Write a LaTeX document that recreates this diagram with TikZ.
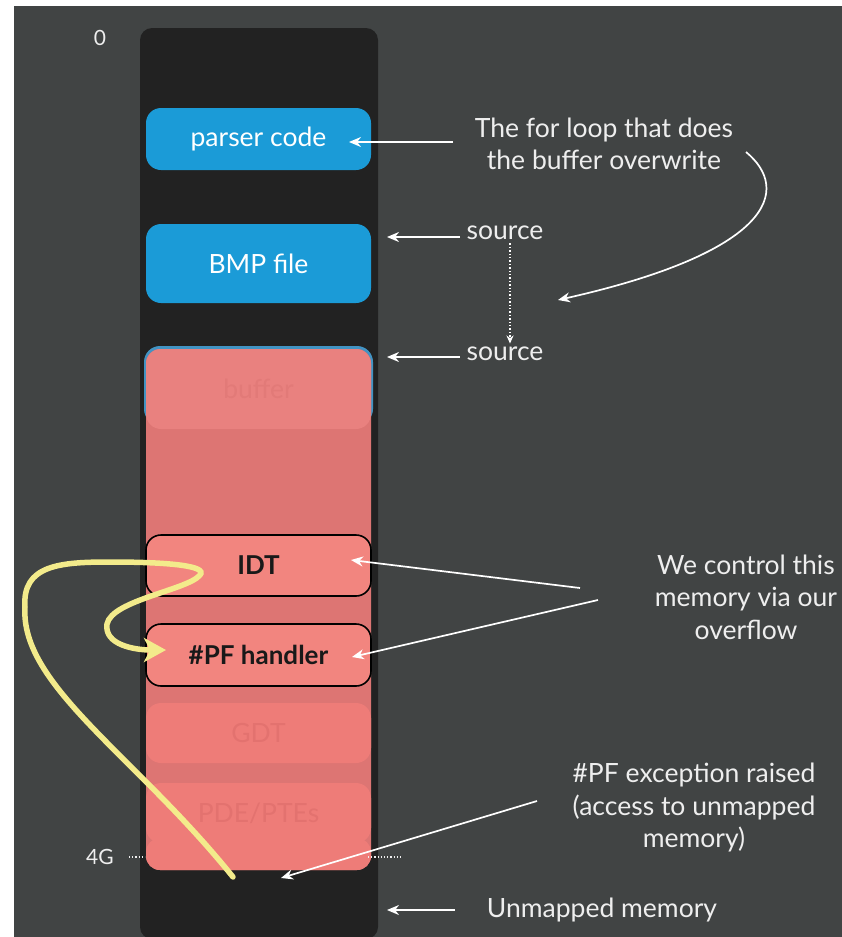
\documentclass[tikz,border=0pt]{standalone}
\usepackage{fontspec}
\setmainfont{Lato}
\usetikzlibrary{arrows.meta}

\definecolor{slate}{HTML}{414444}
\definecolor{column}{HTML}{222222}
\definecolor{codeblue}{HTML}{1B9BD7}
\definecolor{ovred}{HTML}{DD7573}
\definecolor{ovlight}{HTML}{E9817F}
\definecolor{ovbox}{HTML}{F2857F}
\definecolor{ovpale}{HTML}{EE7C78}
\definecolor{ovtext}{HTML}{E3726F}
\definecolor{jump}{HTML}{F3EB8B}
\definecolor{chalk}{HTML}{EEEEEE}

\begin{document}
\begin{tikzpicture}[x=1pt,y=-1pt,
  region/.style={minimum width=225pt,inner sep=0pt,rounded corners=15pt,
    font=\fontsize{26.5}{32}\selectfont},
  codebox/.style={region,fill=codeblue,text=white},
  hitbox/.style={region,fill=ovbox,draw=black,line width=1.6pt,text=black!90,
    font=\fontsize{26}{32}\selectfont\bfseries},
  ghost/.style={region,fill=ovpale,text=ovtext},
  note/.style={text=chalk,align=center,font=\fontsize{26.5}{32.5}\selectfont},
  tick/.style={text=chalk,font=\fontsize{21}{24}\selectfont},
  ptr/.style={draw=white,line width=1.7pt,-{Stealth[length=12pt,width=10pt]}}]

  \useasboundingbox (0,0) rectangle (842,937);
  \fill[white] (0,0) rectangle (842,937);
  \fill[slate] (14,6) rectangle (842,937);

  % address space column
  \fill[column,rounded corners=12pt] (140,28) rectangle (378,939);
  \fill[codeblue!80!ovred,rounded corners=16pt] (144,346) rectangle (373,425);
  \fill[ovred,rounded corners=14pt] (146,349) rectangle (371,870);
  \fill[ovpale,rounded corners=14pt] (146,838) rectangle (371,870);

  \node[codebox,minimum height=62pt] (parser) at (258.5,139) {parser code};
  \node[codebox,minimum height=79pt] (bmp) at (258.5,263.5) {BMP file};
  \node[region,minimum height=80pt,fill=ovlight,text=ovred!60!ovlight] (buf) at (258.5,389) {buffer};
  \node[hitbox,minimum height=61pt] (idt) at (258.5,565.5) {IDT};
  \node[hitbox,minimum height=62pt] (pfh) at (258.5,655) {\#PF handler};
  \node[ghost,minimum height=60pt] (gdt) at (258.5,733) {GDT};
  \node[ghost,minimum height=60pt] (pde) at (258.5,813) {PDE/PTEs};

  \node[tick] (zero) at (100,38) {0};
  \node[tick] (fourg) at (100,857) {4G};
  \coordinate (gl1) at (129,857);
  \coordinate (gl2) at (145,857);
  \coordinate (gr1) at (368,857);
  \coordinate (gr2) at (402,857);
  \draw[chalk,dotted,line width=1.2pt] (gl1) -- (gl2);
  \draw[chalk,dotted,line width=1.2pt] (gr1) -- (gr2);

  \node[note] (loopnote) at (604,144) {The for loop that does\\the buffer overwrite};
  \node[note] (src1) at (505,233) {source};
  \node[note] (src2) at (505,354) {source};
  \node[note] (ctrlnote) at (746,597) {We control this\\memory via our\\overflow};
  \node[note] (pfnote) at (694,808) {\#PF exception raised\\(access to unmapped\\memory)};
  \node[note] (unmapped) at (602,910) {Unmapped memory};

  \coordinate (lpa) at (453,142);
  \coordinate (lpb) at (349,142);
  \coordinate (lpc) at (746,152);
  \coordinate (lpd) at (558,300);
  \coordinate (sa) at (460,237);
  \coordinate (sb) at (387,237);
  \coordinate (sc) at (460,357);
  \coordinate (sd) at (387,357);
  \coordinate (ca) at (580,588);
  \coordinate (cb) at (351,560);
  \coordinate (cc) at (598,600);
  \coordinate (cd) at (352,657);
  \coordinate (pa) at (537,801);
  \coordinate (pb) at (281,878);
  \coordinate (ua) at (455,910);
  \coordinate (ub) at (387,910);

  \draw[ptr] (lpa) -- (lpb);
  \draw[ptr] (lpc) .. controls (792,190) and (772,252) .. (lpd);
  \draw[ptr] (sa) -- (sb);
  \draw[ptr] (sc) -- (sd);
  \draw[white,dotted,line width=1.4pt,-{Stealth[length=8pt,width=7pt]}] ([xshift=5pt]src1.south) -- ([xshift=5pt]src2.north);
  \draw[ptr] (ca) -- (cb);
  \draw[ptr] (cc) -- (cd);
  \draw[ptr] (pa) -- (pb);
  \draw[ptr] (ua) -- (ub);

  % fault path back into the handler
  \coordinate (ybot) at (233,877);
  \coordinate (ytip) at (166,650);
  \draw[jump,line width=5.5pt,line cap=round,-{Stealth[length=22pt,width=24pt,inset=6pt]}]
    (ybot) .. controls (135,755) and (20,685) .. (25,607)
    .. controls (22,565) and (60,562) .. (110,562)
    .. controls (170,562) and (208,566) .. (200,575)
    .. controls (188,590) and (112,600) .. (107,624)
    .. controls (104,645) and (135,650) .. (ytip);
\end{tikzpicture}
\end{document}
